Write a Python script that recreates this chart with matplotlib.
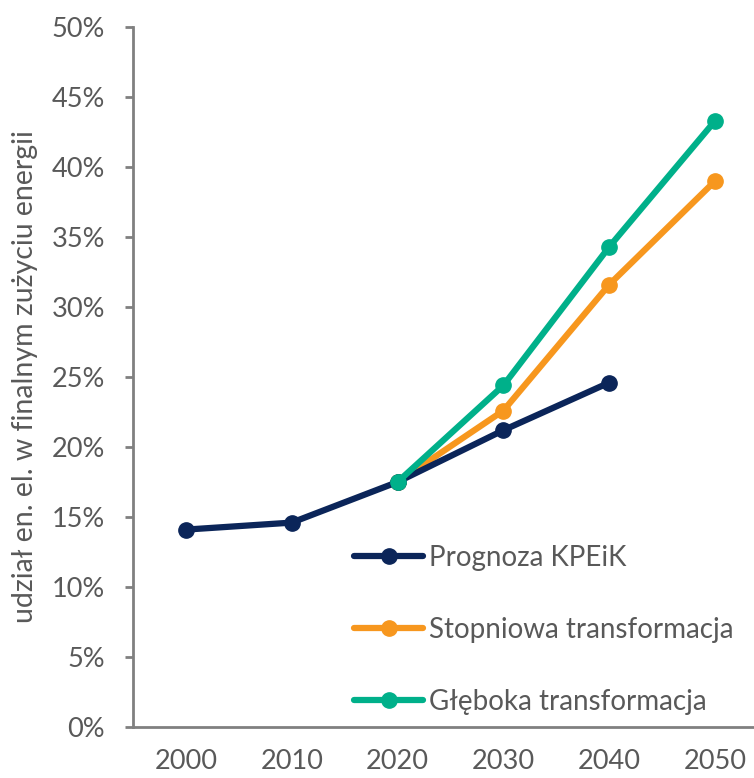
import matplotlib.pyplot as plt
from matplotlib.ticker import FuncFormatter

years = ["2000", "2010", "2020", "2030", "2040", "2050"]
kpeik = [14.1, 14.6, 17.5, 21.2, 24.6]
stopniowa = [17.5, 22.6, 31.6, 39.0]
gleboka = [17.5, 24.4, 34.3, 43.3]

navy = "#0B2559"
orange = "#F7971E"
green = "#00B08A"
gray = "#595959"

plt.rcParams["font.family"] = ["Lato", "DejaVu Sans"]

fig = plt.figure(figsize=(7.54, 7.78), dpi=100)
ax = fig.add_axes([133 / 754, 51 / 778, 635 / 754, 700 / 778])

x_all = list(range(len(years)))
ax.plot(x_all[:5], kpeik, color=navy, lw=4.5, marker="o", ms=11,
        solid_capstyle="round", label="Prognoza KPEiK", zorder=3)
ax.plot(x_all[2:], stopniowa, color=orange, lw=4.5, marker="o", ms=11,
        solid_capstyle="round", label="Stopniowa transformacja", zorder=2)
ax.plot(x_all[2:], gleboka, color=green, lw=4.5, marker="o", ms=11,
        solid_capstyle="round", label="Głęboka transformacja", zorder=4)

ax.set_xlim(-0.5, 5.5)
ax.set_ylim(0, 50)
ax.set_yticks(range(0, 51, 5))
ax.yaxis.set_major_formatter(FuncFormatter(lambda v, p: f"{v:.0f}%"))
ax.set_xticks(x_all)
ax.set_xticklabels(years)

for s in ["top", "right"]:
    ax.spines[s].set_visible(False)
for s in ["left", "bottom"]:
    ax.spines[s].set_color("#808080")
    ax.spines[s].set_linewidth(2)

ax.tick_params(axis="y", length=6, width=2, color="#808080", pad=14,
               labelsize=19.5, labelcolor=gray)
ax.tick_params(axis="x", length=0, pad=16, labelsize=19.5, labelcolor=gray)

ax.set_ylabel("udział en. el. w finalnym zużyciu energii", fontsize=20.5,
              color=gray, labelpad=10)

leg = ax.legend(loc="upper left", bbox_to_anchor=(354 / 754, 1 - 545 / 778),
                bbox_transform=fig.transFigure, frameon=False, fontsize=20,
                handlelength=2.5, handletextpad=0.2, labelspacing=1.65,
                borderpad=0, borderaxespad=0)
for t in leg.get_texts():
    t.set_color(gray)

fig.savefig("out.png", dpi=100)
